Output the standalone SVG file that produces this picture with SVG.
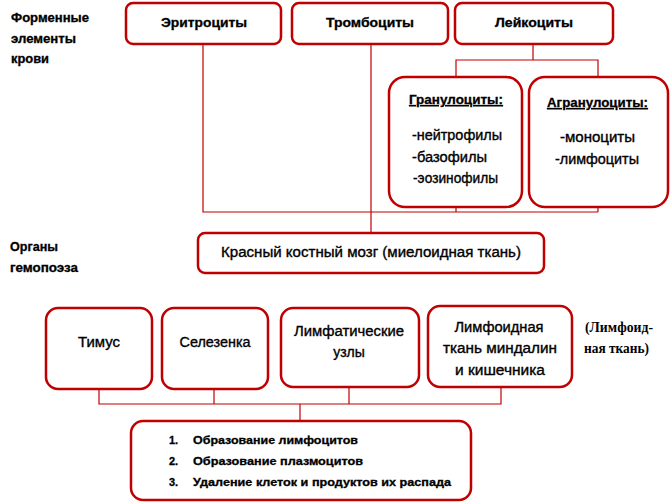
<svg xmlns="http://www.w3.org/2000/svg" width="671" height="504" viewBox="0 0 671 504">
<defs>
<style>
.box{fill:#fff;stroke:#C00000;stroke-width:2.5}
.ln{fill:none;stroke:#C00000;stroke-width:1.2}
.b{font-family:"Liberation Sans",Arial,sans-serif;font-weight:bold;fill:#000;stroke:#000;stroke-width:0.3}
.r{font-family:"Liberation Sans",Arial,sans-serif;fill:#000;stroke:#000;stroke-width:0.35}
.s{font-family:"Liberation Serif","Times New Roman",serif;font-weight:bold;fill:#000}
.m{text-anchor:middle}
</style>
</defs>
<rect width="671" height="504" fill="#fff"/>
<g id="labels">
<text class="b" x="11" y="22" font-size="12" textLength="78" lengthAdjust="spacingAndGlyphs">Форменные</text>
<text class="b" x="11" y="43" font-size="12" textLength="65" lengthAdjust="spacingAndGlyphs">элементы</text>
<text class="b" x="11" y="63" font-size="12" textLength="38" lengthAdjust="spacingAndGlyphs">крови</text>
<text class="b" x="10" y="251" font-size="12" textLength="48" lengthAdjust="spacingAndGlyphs">Органы</text>
<text class="b" x="10" y="272" font-size="12" textLength="68" lengthAdjust="spacingAndGlyphs">гемопоэза</text>
<text class="s" x="585" y="332" font-size="14" textLength="68" lengthAdjust="spacingAndGlyphs">(Лимфоид-</text>
<text class="s" x="584" y="353" font-size="14" textLength="65" lengthAdjust="spacingAndGlyphs">ная ткань)</text>
</g>
<g id="connectors">
<path class="ln" d="M203,44 V212 H598 M371,44 V234 M456,207 V212 M598,207 V212"/>
<path class="ln" d="M533,44 V60 M456,77 V60 H598 V77"/>
<path class="ln" d="M99,389 V404 H501 V387 M214,389 V404 M349,387 V404 M300,404 V421"/>
</g>
<g id="erythrocytes">
<rect class="box" x="126" y="3" width="155" height="41" rx="7"/>
<text class="b m" x="204" y="27" font-size="12.5" textLength="86" lengthAdjust="spacingAndGlyphs">Эритроциты</text>
</g>
<g id="thrombocytes">
<rect class="box" x="292" y="3" width="156" height="41" rx="7"/>
<text class="b m" x="370" y="27" font-size="12.5" textLength="88" lengthAdjust="spacingAndGlyphs">Тромбоциты</text>
</g>
<g id="leukocytes">
<rect class="box" x="455" y="3" width="158" height="41" rx="7"/>
<text class="b m" x="534" y="27" font-size="12.5" textLength="78" lengthAdjust="spacingAndGlyphs">Лейкоциты</text>
</g>
<g id="granulocytes">
<rect class="box" x="389" y="77" width="133" height="130" rx="16"/>
<text class="b" x="409" y="104" font-size="13" textLength="94" lengthAdjust="spacingAndGlyphs" text-decoration="underline">Гранулоциты:</text>
<text class="r" x="412" y="140" font-size="14" textLength="90" lengthAdjust="spacingAndGlyphs">-нейтрофилы</text>
<text class="r" x="412" y="162" font-size="14" textLength="75" lengthAdjust="spacingAndGlyphs">-базофилы</text>
<text class="r" x="413" y="183" font-size="14" textLength="85" lengthAdjust="spacingAndGlyphs">-эозинофилы</text>
</g>
<g id="agranulocytes">
<rect class="box" x="529" y="77" width="139" height="130" rx="16"/>
<text class="b" x="547" y="107" font-size="13" textLength="101" lengthAdjust="spacingAndGlyphs" text-decoration="underline">Агранулоциты:</text>
<text class="r" x="560" y="142" font-size="14" textLength="75" lengthAdjust="spacingAndGlyphs">-моноциты</text>
<text class="r" x="555" y="164" font-size="14" textLength="84" lengthAdjust="spacingAndGlyphs">-лимфоциты</text>
</g>
<g id="bone-marrow">
<rect class="box" x="198" y="233" width="346" height="40" rx="7"/>
<text class="r m" x="371" y="257" font-size="14" textLength="300" lengthAdjust="spacingAndGlyphs">Красный костный мозг (миелоидная ткань)</text>
</g>
<g id="thymus">
<rect class="box" x="46" y="308" width="106" height="81" rx="12"/>
<text class="r m" x="99" y="347" font-size="14" textLength="42" lengthAdjust="spacingAndGlyphs">Тимус</text>
</g>
<g id="spleen">
<rect class="box" x="162" y="308" width="106" height="81" rx="12"/>
<text class="r m" x="215" y="347" font-size="14" textLength="71" lengthAdjust="spacingAndGlyphs">Селезенка</text>
</g>
<g id="lymph-nodes">
<rect class="box" x="281" y="308" width="138" height="79" rx="12"/>
<text class="r m" x="349" y="336" font-size="14" textLength="110" lengthAdjust="spacingAndGlyphs">Лимфатические</text>
<text class="r m" x="349" y="357" font-size="14">узлы</text>
</g>
<g id="lymphoid-tissue">
<rect class="box" x="428" y="306" width="144" height="81" rx="12"/>
<text class="r m" x="499" y="332" font-size="14" textLength="89" lengthAdjust="spacingAndGlyphs">Лимфоидная</text>
<text class="r m" x="500" y="353" font-size="14" textLength="114" lengthAdjust="spacingAndGlyphs">ткань миндалин</text>
<text class="r m" x="500" y="375" font-size="14" textLength="90" lengthAdjust="spacingAndGlyphs">и кишечника</text>
</g>
<g id="functions">
<rect class="box" x="131" y="421" width="340" height="79" rx="12"/>
<text class="b" x="169" y="444" font-size="11">1.</text>
<text class="b" x="193" y="444" font-size="11" textLength="165" lengthAdjust="spacingAndGlyphs">Образование лимфоцитов</text>
<text class="b" x="169" y="465" font-size="11">2.</text>
<text class="b" x="193" y="465" font-size="11" textLength="170" lengthAdjust="spacingAndGlyphs">Образование плазмоцитов</text>
<text class="b" x="169" y="486" font-size="11">3.</text>
<text class="b" x="193" y="486" font-size="11" textLength="258" lengthAdjust="spacingAndGlyphs">Удаление клеток и продуктов их распада</text>
</g>
</svg>
